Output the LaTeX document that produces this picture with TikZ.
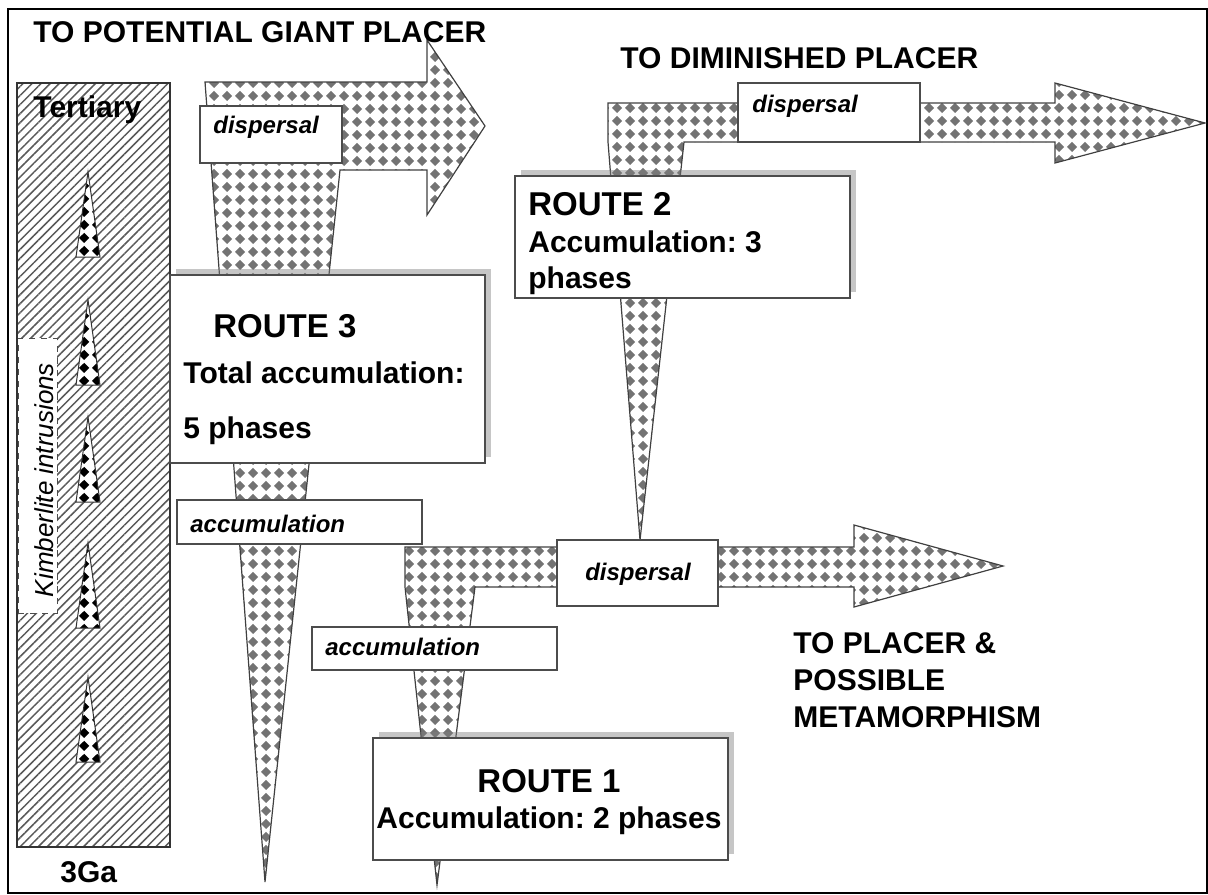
\documentclass[tikz,border=0pt]{standalone}
\usepackage{fontspec}
\setmainfont{Liberation Sans}
\usetikzlibrary{patterns,patterns.meta,shadows}
\frenchspacing

% grey blobs of the sediment flows
\pgfdeclarepatternformonly{gravel}{\pgfpointorigin}{\pgfqpoint{6.5pt}{6.5pt}}{\pgfqpoint{6.5pt}{6.5pt}}{%
  \pgfpathmoveto{\pgfqpoint{3.25pt}{0.55pt}}%
  \pgfpathcurveto{\pgfqpoint{4.6pt}{1.9pt}}{\pgfqpoint{4.6pt}{1.9pt}}{\pgfqpoint{5.95pt}{3.25pt}}%
  \pgfpathcurveto{\pgfqpoint{4.6pt}{4.6pt}}{\pgfqpoint{4.6pt}{4.6pt}}{\pgfqpoint{3.25pt}{5.95pt}}%
  \pgfpathcurveto{\pgfqpoint{1.9pt}{4.6pt}}{\pgfqpoint{1.9pt}{4.6pt}}{\pgfqpoint{0.55pt}{3.25pt}}%
  \pgfpathcurveto{\pgfqpoint{1.9pt}{1.9pt}}{\pgfqpoint{1.9pt}{1.9pt}}{\pgfqpoint{3.25pt}{0.55pt}}%
  \pgfpathclose
  \pgfusepath{fill}}

\begin{document}
\begin{tikzpicture}[x=0.5pt, y=-0.5pt,
  box/.style={draw=black!70, fill=white, line width=0.6pt, inner sep=0pt},
  routebox/.style={box, drop shadow={shadow xshift=3pt, shadow yshift=3pt, opacity=0.45}},
  flow/.style={draw=black!75, line width=0.6pt, pattern=gravel, pattern color=black!55},
  pipe/.style={draw=black!80, line width=0.5pt, preaction={fill=white}, pattern=gravel, pattern color=black},
  head/.style={font=\bfseries\fontsize{15}{18}\selectfont, inner sep=0pt},
  rtitle/.style={font=\bfseries\fontsize{16.5}{20}\selectfont, inner sep=0pt},
  tag/.style={font=\bfseries\itshape\fontsize{12}{14}\selectfont, inner sep=0pt}]

  \useasboundingbox (0,0) rectangle (1208,894);
  \draw[line width=0.8pt] (8,9) rectangle (1207,893);

  % Tertiary column
  \node[draw=black!80, line width=0.6pt, inner sep=0pt,
        pattern={Lines[angle=45, distance=3.2pt, line width=0.75pt]}, pattern color=black!65,
        minimum width=76.5pt, minimum height=382pt] (tert) at (93.5,465) {};
  \node[draw=black!70, dashed, fill=white, inner sep=0pt,
        minimum width=19.5pt, minimum height=137.5pt] (kbox) at (37.5,475.5) {};
  \node[rotate=90, anchor=base, inner sep=0pt, font=\itshape\fontsize{13}{15}\selectfont]
    (kimb) at (53,480) {Kimberlite intrusions};
  \node[head, anchor=base west] (tertiary) at (33,117) {Tertiary};
  \node[head, anchor=base west] (age) at (60,882) {3Ga};

  % kimberlite pipes
  \foreach \a in {172,300,417,543,677}
    \draw[pipe] (88,\a) -- (100,\a+85) -- (76,\a+85) -- cycle;

  % Route 3
  \draw[flow] (205,82) -- (427,82) -- (427,40) -- (485,126) -- (427,215)
    -- (427,170) -- (340,170) -- (265,882) -- cycle;
  % Route 2
  \draw[flow] (608,103) -- (1055,103) -- (1055,83) -- (1205,123) -- (1055,163)
    -- (1055,142) -- (684,142) -- (640,540) -- (608,142) -- cycle;
  % Route 1
  \draw[flow] (405,547) -- (854,547) -- (854,525) -- (1003,566) -- (854,607)
    -- (854,587) -- (475,587) -- (437,885) -- (405,587) -- cycle;

  % boxes
  \node[box, minimum width=71pt, minimum height=28.5pt] (disp3) at (271,134.5) {};
  \node[box, minimum width=91pt, minimum height=29.5pt] (disp2) at (829,112.5) {};
  \node[box, minimum width=80.5pt, minimum height=33pt] (disp1) at (637.5,573) {};
  \node[box, minimum width=122.5pt, minimum height=22pt] (acc3) at (299.5,522) {};
  \node[box, minimum width=122.5pt, minimum height=21.5pt] (acc1) at (434.5,648.5) {};
  \node[routebox, minimum width=157.5pt, minimum height=94pt] (r3box) at (327.5,369) {};
  \node[routebox, minimum width=167.5pt, minimum height=61pt] (r2box) at (682.5,237) {};
  \node[routebox, minimum width=177.5pt, minimum height=61pt] (r1box) at (550.5,799) {};

  % labels on the flows
  \node[tag, anchor=base west] (d3) at (213,133) {dispersal};
  \node[tag, anchor=base west] (d2) at (752,112) {dispersal};
  \node[tag, anchor=base] (d1) at (638,580) {dispersal};
  \node[tag, anchor=base west] (a3) at (190,532) {accumulation};
  \node[tag, anchor=base west] (a1) at (325,655) {accumulation};

  % route texts
  \node[rtitle, anchor=base west] (r3a) at (213,337) {ROUTE 3};
  \node[head, anchor=base west] (r3b) at (183,383) {Total accumulation:};
  \node[head, anchor=base west] (r3c) at (183,438) {5 phases};
  \node[rtitle, anchor=base west] (r2a) at (528,215) {ROUTE 2};
  \node[head, anchor=base west] (r2b) at (528,252) {Accumulation: 3};
  \node[head, anchor=base west] (r2c) at (528,288) {phases};
  \node[rtitle, anchor=base] (r1a) at (549,792) {ROUTE 1};
  \node[head, anchor=base] (r1b) at (549,828) {Accumulation: 2 phases};

  % destinations
  \node[head, anchor=base west] (giant) at (33,42) {TO POTENTIAL GIANT PLACER};
  \node[head, anchor=base west] (dimin) at (620,68) {TO DIMINISHED PLACER};
  \node[head, anchor=base west] (meta1) at (793,653) {TO PLACER \&};
  \node[head, anchor=base west] (meta2) at (793,690) {POSSIBLE};
  \node[head, anchor=base west] (meta3) at (793,727) {METAMORPHISM};
\end{tikzpicture}
\end{document}
